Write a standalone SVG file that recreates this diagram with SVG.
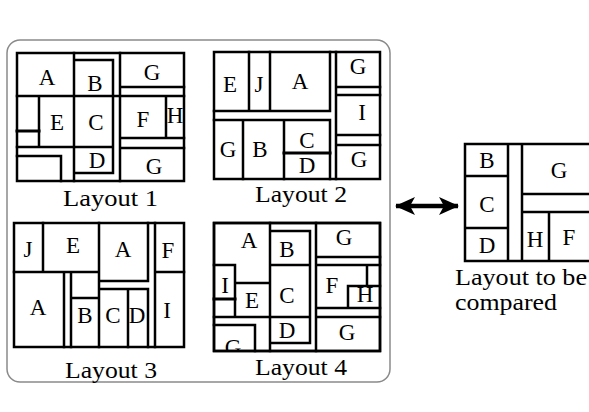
<svg xmlns="http://www.w3.org/2000/svg" width="589" height="412" viewBox="0 0 589 412">
<style>
.frame{fill:none;stroke:#8a8a8a;stroke-width:1.5}
.ln{stroke:#000;stroke-width:2.5;fill:none;stroke-linecap:square}
.bd{fill:#fff;stroke:#000;stroke-width:2.5}
.t{font-family:"Liberation Serif","Times New Roman",serif;font-size:23px;text-anchor:middle;fill:#000}
.cap{font-family:"Liberation Serif","Times New Roman",serif;font-size:23px;fill:#000}
</style>
<defs>
<marker id="ah" viewBox="0 0 20 18" markerWidth="20" markerHeight="18" refX="19" refY="9" orient="auto-start-reverse" markerUnits="userSpaceOnUse">
<path d="M0,0 L20,9 L0,18 L5,9 z" fill="#000"/>
</marker>
<clipPath id="c4"><rect x="214" y="223" width="166" height="128"/></clipPath>
</defs>
<rect width="589" height="412" fill="#fff"/>
<rect class="frame" x="7" y="40" width="383" height="342" rx="13"/>

<g id="layout1">
<rect class="bd" x="17" y="53" width="167" height="128"/>
<path class="ln" d="M74,53V181 M120,53V181 M17,96H120 M74,60H113 M113,60V173 M74,173H113 M74,147H113 M120,87H184 M120,96H184 M120,138H184 M166,96V138 M120,148H184 M39,96V147 M17,147H74 M17,156H61 M61,156V181"/>
<path class="ln" style="stroke-width:3" d="M17,131H39"/>
<text class="t" x="47" y="85">A</text>
<text class="t" x="95" y="91">B</text>
<text class="t" x="152" y="80">G</text>
<text class="t" x="57" y="130">E</text>
<text class="t" x="96" y="130">C</text>
<text class="t" x="143" y="127">F</text>
<text class="t" x="175" y="123">H</text>
<text class="t" x="97" y="168">D</text>
<text class="t" x="154" y="174">G</text>
<text class="cap" x="63" y="206" textLength="95" lengthAdjust="spacingAndGlyphs">Layout 1</text>
</g>

<g id="layout2">
<rect class="bd" x="214" y="52" width="166" height="127"/>
<path class="ln" d="M249,52V111 M270,52V111 M330,52V111 M214,111H330 M214,120H330 M336,52V179 M336,87H380 M336,95H380 M336,135H380 M336,145H380 M243,120V179 M284,120V179 M330,120V179"/>
<path class="ln" style="stroke-width:3" d="M284,153H330"/>
<text class="t" x="230" y="92">E</text>
<text class="t" x="259" y="92">J</text>
<text class="t" x="300" y="89">A</text>
<text class="t" x="358" y="74">G</text>
<text class="t" x="362" y="120">I</text>
<text class="t" x="228" y="157">G</text>
<text class="t" x="260" y="157">B</text>
<text class="t" x="307" y="148">C</text>
<text class="t" x="307" y="173">D</text>
<text class="t" x="359" y="167">G</text>
<text class="cap" x="255" y="202" textLength="92" lengthAdjust="spacingAndGlyphs">Layout 2</text>
</g>

<g id="layout3">
<rect class="bd" x="14" y="223" width="170" height="124"/>
<path class="ln" d="M43,223V272 M99,223V347 M148,223V281 M148,289V347 M155,223V347 M14,272H99 M155,272H184 M99,281H148 M99,289H148 M128,289V347 M64,272V347 M71,272V347 M71,298H99"/>
<text class="t" x="28" y="257">J</text>
<text class="t" x="73" y="253">E</text>
<text class="t" x="123" y="257">A</text>
<text class="t" x="168" y="258">F</text>
<text class="t" x="38" y="315">A</text>
<text class="t" x="85" y="323">B</text>
<text class="t" x="113" y="323">C</text>
<text class="t" x="137" y="323">D</text>
<text class="t" x="167" y="318">I</text>
<text class="cap" x="65" y="378" textLength="92" lengthAdjust="spacingAndGlyphs">Layout 3</text>
</g>

<g id="layout4">
<rect class="bd" x="214" y="223" width="166" height="128"/>
<text class="t" x="233" y="355" clip-path="url(#c4)">G</text>
<path class="ln" d="M270,223V351 M214,265H235 M235,265V317 M235,283H270 M214,317H270 M214,325H255 M255,325V351 M270,231H310 M310,231V343 M270,265H310 M270,317H310 M270,343H310 M316,223V351 M316,257H380 M316,265H380 M367,265V286 M348,286H380 M348,286V308 M316,308H380 M316,317H380"/>
<path class="ln" style="stroke-width:3" d="M214,299H235"/>
<rect x="214" y="223" width="166" height="128" fill="none" stroke="#000" stroke-width="2.5"/>
<text class="t" x="249" y="248">A</text>
<text class="t" x="287" y="257">B</text>
<text class="t" x="344" y="245">G</text>
<text class="t" x="225" y="293">I</text>
<text class="t" x="252" y="308">E</text>
<text class="t" x="287" y="303">C</text>
<text class="t" x="332" y="293">F</text>
<text class="t" x="365" y="302">H</text>
<text class="t" x="287" y="338">D</text>
<text class="t" x="347" y="340">G</text>
<text class="cap" x="255" y="375" textLength="92" lengthAdjust="spacingAndGlyphs">Layout 4</text>
</g>

<g id="layout-compared">
<path class="ln" d="M465,144H592 M465,144V261 M465,261H592 M465,176H508 M465,228H508 M508,144V261 M522,144V261 M522,194H592 M522,212H592 M549,212V261"/>
<text class="t" x="487" y="168">B</text>
<text class="t" x="559" y="178">G</text>
<text class="t" x="487" y="212">C</text>
<text class="t" x="487" y="253">D</text>
<text class="t" x="535" y="247">H</text>
<text class="t" x="569" y="245">F</text>
<text class="cap" x="455" y="285" textLength="132" lengthAdjust="spacingAndGlyphs">Layout to be</text>
<text class="cap" x="455" y="310" textLength="102" lengthAdjust="spacingAndGlyphs">compared</text>
</g>

<g id="connectors">
<line x1="396" y1="206" x2="458" y2="206" stroke="#000" stroke-width="4.5" marker-start="url(#ah)" marker-end="url(#ah)"/>
</g>
</svg>
